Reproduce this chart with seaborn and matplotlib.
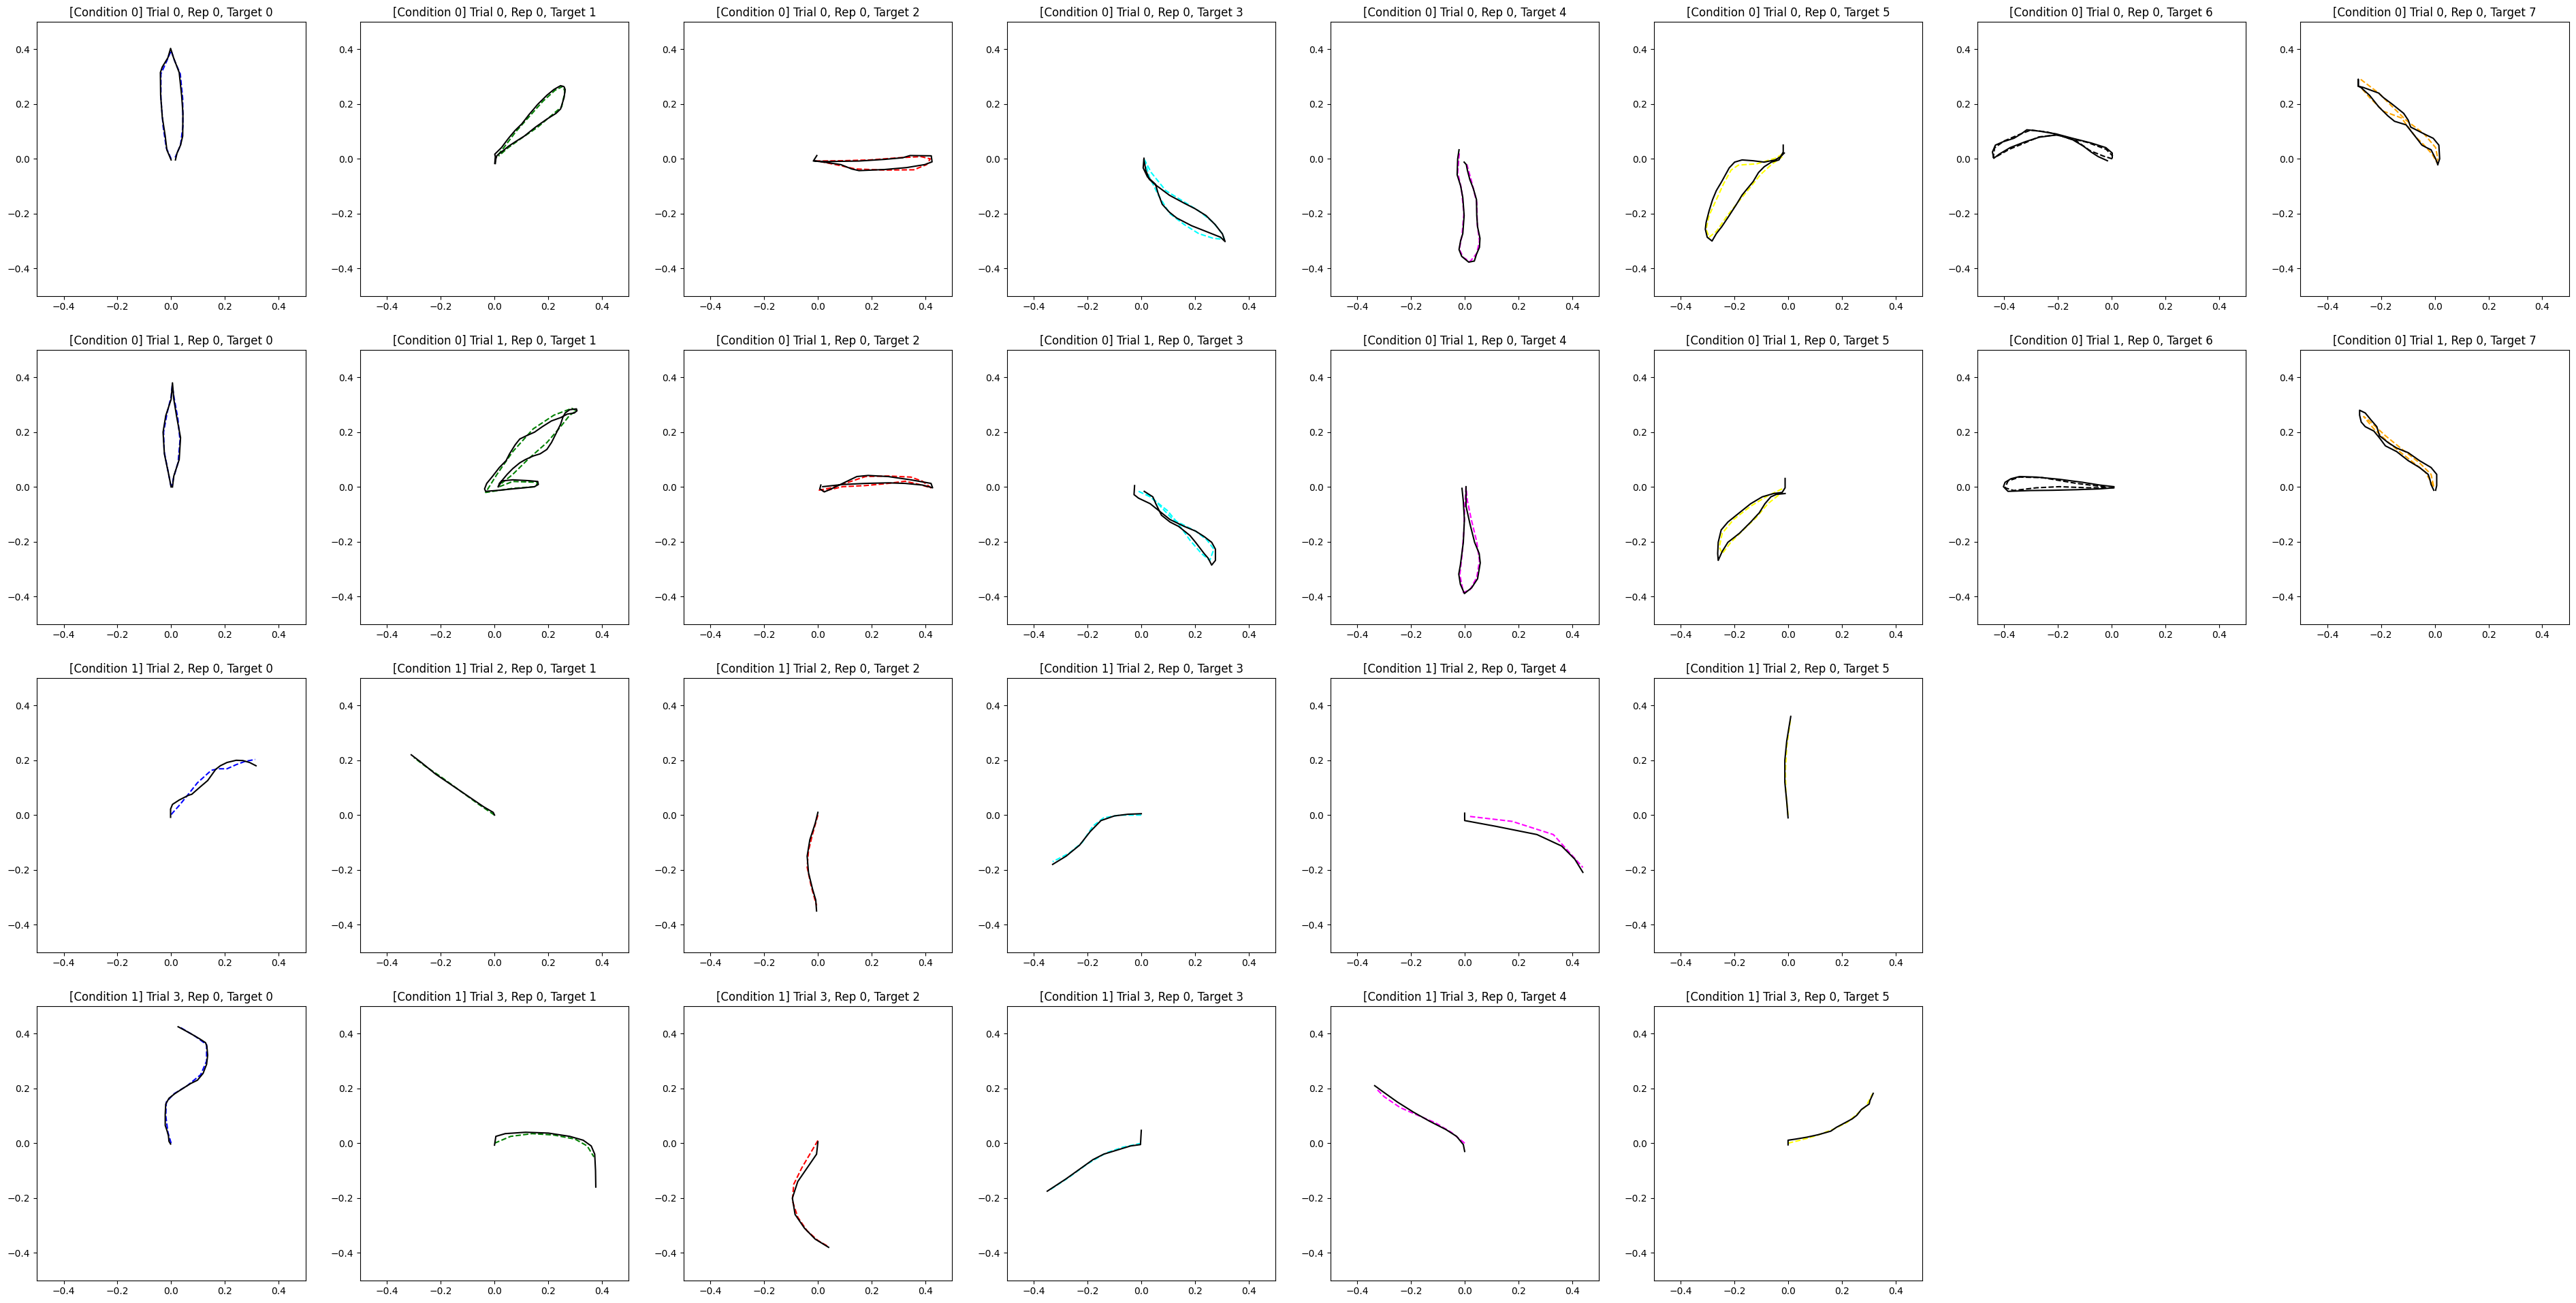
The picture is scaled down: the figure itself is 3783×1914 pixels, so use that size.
import numpy as np
import matplotlib
matplotlib.use('Agg')
import matplotlib.pyplot as plt
import seaborn as sns

# row labels: condition / trial per row, number of targets shown per row
conditions = [0, 0, 1, 1]
trials = [0, 1, 2, 3]
n_targets = [8, 8, 6, 6]
target_colors = ['blue', 'green', 'red', 'cyan', 'magenta', 'yellow', 'black', 'orange']

# ---- trajectories (x, y) ----
# row 0
act_r0c0 = [(0, -0.004), (-0.016, 0.033), (-0.022, 0.083), (-0.033, 0.153), (-0.039, 0.232), (-0.040, 0.315),
            (-0.033, 0.335), (-0.012, 0.369), (-0.002, 0.403), (0.009, 0.369), (0.030, 0.315), (0.039, 0.232),
            (0.044, 0.166), (0.043, 0.083), (0.035, 0.050), (0.022, 0.021), (0.016, -0.004)]
ref_r0c0 = [(0.0, 0.0), (-0.018, 0.04), (-0.03, 0.12), (-0.038, 0.22), (-0.038, 0.31), (-0.015, 0.36), (0.0, 0.395),
            (0.012, 0.36), (0.034, 0.31), (0.043, 0.22), (0.044, 0.12), (0.035, 0.05), (0.015, 0.005)]
act_r0c1 = [(0.001, -0.017), (0.003, 0.008), (0.001, 0.017), (0.026, 0.041), (0.052, 0.075), (0.077, 0.104),
            (0.102, 0.128), (0.128, 0.161), (0.161, 0.199), (0.195, 0.232), (0.221, 0.253), (0.246, 0.267),
            (0.259, 0.263), (0.263, 0.253), (0.259, 0.224), (0.246, 0.182), (0.229, 0.166), (0.195, 0.145),
            (0.153, 0.116), (0.111, 0.083), (0.077, 0.062), (0.052, 0.046), (0.026, 0.025), (0.009, 0.012),
            (0.005, 0.0), (0.003, -0.017)]
ref_r0c1 = [(0.003, -0.01), (0.005, 0.005), (0.03, 0.035), (0.08, 0.1), (0.13, 0.155), (0.18, 0.21), (0.225, 0.25),
            (0.255, 0.265), (0.262, 0.245), (0.25, 0.19), (0.22, 0.165), (0.16, 0.115), (0.1, 0.075), (0.05, 0.04),
            (0.015, 0.01)]
act_r0c2 = [(-0.004, 0.012), (-0.017, -0.008), (0.030, -0.010), (0.153, -0.008), (0.248, -0.002), (0.316, 0.004),
            (0.343, 0.012), (0.422, 0.011), (0.425, -0.011), (0.398, -0.021), (0.330, -0.032), (0.248, -0.039),
            (0.153, -0.043), (0.126, -0.037), (0.085, -0.021), (0.030, -0.013), (-0.010, -0.008)]
ref_r0c2 = [(-0.010, -0.008), (0.085, -0.007), (0.194, -0.004), (0.302, 0.004), (0.384, 0.008), (0.418, 0.0),
            (0.405, -0.021), (0.357, -0.040), (0.248, -0.041), (0.139, -0.037), (0.085, -0.025), (0.010, -0.010)]
act_r0c3 = [(0.010, 0.002), (0.007, -0.033), (0.023, -0.066), (0.053, -0.093), (0.062, -0.124), (0.078, -0.166),
            (0.105, -0.195), (0.132, -0.216), (0.187, -0.244), (0.241, -0.265), (0.295, -0.286), (0.312, -0.302),
            (0.302, -0.274), (0.275, -0.240), (0.241, -0.207), (0.200, -0.182), (0.160, -0.162), (0.105, -0.133),
            (0.053, -0.095), (0.030, -0.075), (0.017, -0.042), (0.010, -0.004)]
ref_r0c3 = [(0.010, 0.0), (0.037, -0.050), (0.091, -0.116), (0.146, -0.149), (0.214, -0.190), (0.268, -0.232),
            (0.302, -0.274), (0.309, -0.294), (0.268, -0.290), (0.214, -0.273), (0.160, -0.240), (0.105, -0.199),
            (0.064, -0.133), (0.030, -0.066), (0.013, -0.008)]
act_r0c4 = [(-0.021, 0.033), (-0.026, 0.0), (-0.028, -0.058), (-0.015, -0.099), (-0.007, -0.141), (-0.002, -0.207),
            (-0.007, -0.273), (-0.015, -0.298), (-0.021, -0.331), (-0.011, -0.356), (0.015, -0.377), (0.036, -0.373),
            (0.044, -0.348), (0.055, -0.323), (0.057, -0.290), (0.048, -0.248), (0.045, -0.207), (0.044, -0.149),
            (0.032, -0.108), (0.019, -0.075), (0.010, -0.041), (0.006, -0.021), (-0.002, -0.012)]
ref_r0c4 = [(-0.02, 0.02), (-0.026, -0.05), (-0.012, -0.11), (-0.003, -0.2), (-0.01, -0.28), (-0.02, -0.33),
            (-0.005, -0.36), (0.02, -0.375), (0.045, -0.345), (0.055, -0.3), (0.047, -0.24), (0.045, -0.16),
            (0.025, -0.08), (0.008, -0.02)]
act_r0c5 = [(-0.018, 0.050), (-0.018, 0.025), (-0.034, -0.004), (-0.062, -0.012), (-0.089, -0.029), (-0.110, -0.050),
            (-0.130, -0.083), (-0.151, -0.108), (-0.171, -0.132), (-0.192, -0.166), (-0.219, -0.207), (-0.247, -0.248),
            (-0.267, -0.273), (-0.283, -0.300), (-0.301, -0.286), (-0.308, -0.257), (-0.305, -0.232), (-0.294, -0.190),
            (-0.281, -0.149), (-0.267, -0.116), (-0.247, -0.083), (-0.233, -0.058), (-0.219, -0.033), (-0.199, -0.012),
            (-0.171, -0.004), (-0.130, -0.007), (-0.089, -0.012), (-0.048, -0.004), (-0.028, 0.008), (-0.014, 0.021)]
ref_r0c5 = [(-0.021, 0.017), (-0.048, 0.002), (-0.116, -0.018), (-0.185, -0.023), (-0.212, -0.041), (-0.240, -0.091),
            (-0.267, -0.149), (-0.294, -0.207), (-0.305, -0.257), (-0.294, -0.286), (-0.267, -0.265), (-0.226, -0.207),
            (-0.185, -0.157), (-0.144, -0.108), (-0.103, -0.058), (-0.062, -0.021), (-0.021, 0.008)]
act_r0c6 = [(-0.015, -0.007), (-0.049, 0.008), (-0.076, 0.025), (-0.104, 0.046), (-0.145, 0.070), (-0.186, 0.083),
            (-0.206, 0.087), (-0.268, 0.079), (-0.322, 0.062), (-0.377, 0.041), (-0.418, 0.017), (-0.438, 0.002),
            (-0.443, 0.025), (-0.432, 0.050), (-0.404, 0.062), (-0.363, 0.075), (-0.336, 0.091), (-0.315, 0.106),
            (-0.268, 0.101), (-0.206, 0.091), (-0.145, 0.075), (-0.076, 0.058), (-0.021, 0.041), (0.003, 0.021),
            (0.003, 0.004)]
ref_r0c6 = [(0.003, 0.0), (-0.03, 0.01), (-0.08, 0.03), (-0.13, 0.065), (-0.2, 0.088), (-0.27, 0.08), (-0.33, 0.055),
            (-0.38, 0.035), (-0.425, 0.01), (-0.44, 0.005), (-0.435, 0.04), (-0.4, 0.065), (-0.34, 0.09), (-0.3, 0.105),
            (-0.24, 0.098), (-0.17, 0.08), (-0.09, 0.06), (-0.02, 0.035), (0.005, 0.01)]
act_r0c7 = [(0.011, -0.021), (0.003, 0.0), (-0.014, 0.033), (-0.031, 0.041), (-0.048, 0.050), (-0.074, 0.083),
            (-0.107, 0.124), (-0.150, 0.137), (-0.175, 0.157), (-0.209, 0.190), (-0.243, 0.232), (-0.276, 0.261),
            (-0.285, 0.265), (-0.285, 0.290), (-0.285, 0.265), (-0.268, 0.261), (-0.209, 0.240), (-0.192, 0.224),
            (-0.158, 0.199), (-0.116, 0.166), (-0.099, 0.141), (-0.090, 0.116), (-0.040, 0.091), (-0.006, 0.075),
            (0.015, 0.050), (0.018, 0.0), (0.011, -0.021)]
ref_r0c7 = [(-0.276, 0.290), (-0.209, 0.240), (-0.158, 0.190), (-0.107, 0.141), (-0.040, 0.091), (0.003, 0.041),
            (0.011, 0.0), (0.007, -0.012), (-0.010, 0.017), (-0.040, 0.050), (-0.074, 0.083), (-0.124, 0.149),
            (-0.192, 0.174), (-0.243, 0.224), (-0.276, 0.261)]

# row 1
act_r1c0 = [(0.0, 0.0), (-0.01, 0.05), (-0.025, 0.12), (-0.03, 0.2), (-0.02, 0.26), (0.0, 0.32), (0.005, 0.38),
            (0.01, 0.32), (0.02, 0.26), (0.035, 0.18), (0.03, 0.1), (0.01, 0.04), (0.005, 0.0)]
ref_r1c0 = [(0.0, 0.0), (-0.012, 0.06), (-0.026, 0.13), (-0.028, 0.2), (-0.015, 0.27), (0.0, 0.33), (0.004, 0.37),
            (0.012, 0.32), (0.025, 0.25), (0.033, 0.17), (0.026, 0.09), (0.008, 0.03), (0.003, 0.0)]
act_r1c1 = [(0.014, 0.001), (0.018, 0.013), (0.026, 0.022), (0.068, 0.026), (0.128, 0.023), (0.161, 0.020),
            (0.163, 0.009), (0.149, 0.001), (0.111, -0.003), (0.068, -0.007), (0.018, -0.012), (-0.033, -0.016),
            (-0.037, -0.007), (-0.029, 0.013), (-0.008, 0.038), (0.018, 0.071), (0.043, 0.096), (0.056, 0.121),
            (0.077, 0.154), (0.094, 0.175), (0.119, 0.187), (0.149, 0.200), (0.178, 0.220), (0.212, 0.241),
            (0.246, 0.253), (0.271, 0.266), (0.297, 0.270), (0.307, 0.278), (0.305, 0.285), (0.280, 0.282),
            (0.263, 0.270), (0.254, 0.253), (0.246, 0.229), (0.229, 0.195), (0.212, 0.162), (0.195, 0.137),
            (0.170, 0.121), (0.144, 0.113), (0.115, 0.100), (0.094, 0.088), (0.068, 0.067), (0.047, 0.046),
            (0.030, 0.026), (0.022, 0.013), (0.014, 0.001)]
ref_r1c1 = [(0.018, 0.001), (0.068, 0.020), (0.161, 0.017), (0.153, 0.001), (0.068, -0.005), (-0.033, -0.020),
            (0.009, 0.046), (0.068, 0.129), (0.144, 0.212), (0.221, 0.262), (0.288, 0.287), (0.305, 0.278),
            (0.280, 0.262), (0.246, 0.220), (0.195, 0.162), (0.128, 0.104), (0.068, 0.046), (0.026, 0.013)]
act_r1c2 = [(0.011, 0.007), (0.007, -0.007), (0.024, -0.018), (0.050, -0.007), (0.092, 0.013), (0.145, 0.038),
            (0.187, 0.042), (0.262, 0.038), (0.346, 0.026), (0.421, 0.013), (0.427, -0.003), (0.389, 0.007),
            (0.325, 0.013), (0.262, 0.015), (0.177, 0.013), (0.092, 0.009), (0.018, 0.001)]
ref_r1c2 = [(0.003, -0.012), (0.050, -0.003), (0.113, 0.017), (0.177, 0.038), (0.262, 0.040), (0.346, 0.036),
            (0.389, 0.021), (0.421, -0.003), (0.378, 0.009), (0.325, 0.021), (0.262, 0.013), (0.177, 0.005),
            (0.092, 0.001), (0.018, -0.016)]
act_r1c3 = [(-0.025, 0.005), (-0.027, -0.028), (-0.010, -0.041), (0.033, -0.061), (0.075, -0.094), (0.107, -0.119),
            (0.160, -0.144), (0.202, -0.161), (0.234, -0.181), (0.262, -0.202), (0.276, -0.227), (0.276, -0.268),
            (0.262, -0.285), (0.249, -0.260), (0.234, -0.243), (0.202, -0.202), (0.181, -0.177), (0.139, -0.144),
            (0.107, -0.128), (0.075, -0.103), (0.054, -0.061), (0.043, -0.036), (0.011, -0.016)]
ref_r1c3 = [(-0.010, -0.016), (0.033, -0.036), (0.097, -0.086), (0.139, -0.136), (0.181, -0.194), (0.224, -0.243),
            (0.255, -0.268), (0.270, -0.227), (0.245, -0.194), (0.202, -0.161), (0.118, -0.119), (0.054, -0.053),
            (0.011, -0.016)]
act_r1c4 = [(-0.010, -0.005), (-0.005, -0.053), (-0.001, -0.119), (-0.005, -0.202), (-0.016, -0.285), (-0.022, -0.318),
            (-0.016, -0.355), (-0.001, -0.389), (0.026, -0.368), (0.048, -0.335), (0.058, -0.277), (0.054, -0.243),
            (0.037, -0.202), (0.020, -0.136), (0.005, -0.070), (0.005, 0.001)]
ref_r1c4 = [(0.005, 0.0), (0.0, -0.08), (-0.003, -0.16), (-0.01, -0.25), (-0.018, -0.32), (-0.005, -0.385),
            (0.02, -0.375), (0.045, -0.33), (0.055, -0.27), (0.045, -0.2), (0.025, -0.12), (0.01, -0.05), (0.005, 0.0)]
act_r1c5 = [(-0.011, 0.031), (-0.011, -0.003), (-0.022, -0.020), (-0.054, -0.024), (-0.096, -0.036), (-0.139, -0.061),
            (-0.181, -0.094), (-0.224, -0.128), (-0.249, -0.157), (-0.260, -0.202), (-0.262, -0.243), (-0.260, -0.268),
            (-0.245, -0.235), (-0.224, -0.202), (-0.181, -0.169), (-0.139, -0.128), (-0.107, -0.094), (-0.086, -0.061),
            (-0.064, -0.036), (-0.043, -0.027), (-0.011, -0.024)]
ref_r1c5 = [(-0.022, -0.007), (-0.075, -0.032), (-0.139, -0.070), (-0.203, -0.119), (-0.245, -0.169), (-0.256, -0.219),
            (-0.245, -0.243), (-0.213, -0.202), (-0.171, -0.161), (-0.118, -0.111), (-0.075, -0.061), (-0.033, -0.028)]
act_r1c6 = [(0.009, -0.003), (-0.044, -0.007), (-0.130, -0.010), (-0.215, -0.012), (-0.300, -0.013), (-0.385, -0.016),
            (-0.402, 0.001), (-0.396, 0.017), (-0.374, 0.030), (-0.342, 0.038), (-0.279, 0.036), (-0.194, 0.028),
            (-0.108, 0.017), (-0.044, 0.007), (0.009, 0.001)]
ref_r1c6 = [(0.009, -0.003), (-0.087, -0.003), (-0.194, 0.001), (-0.279, -0.003), (-0.364, -0.013), (-0.396, -0.003),
            (-0.385, 0.022), (-0.342, 0.036), (-0.257, 0.034), (-0.130, 0.013), (-0.023, 0.0)]
act_r1c7 = [(-0.004, -0.012), (-0.014, 0.009), (-0.019, 0.030), (-0.025, 0.046), (-0.057, 0.071), (-0.099, 0.096),
            (-0.142, 0.129), (-0.184, 0.150), (-0.206, 0.179), (-0.227, 0.204), (-0.259, 0.220), (-0.274, 0.237),
            (-0.280, 0.262), (-0.280, 0.280), (-0.259, 0.270), (-0.238, 0.245), (-0.216, 0.220), (-0.206, 0.187),
            (-0.174, 0.162), (-0.142, 0.142), (-0.099, 0.125), (-0.057, 0.096), (-0.014, 0.071), (0.007, 0.046),
            (0.007, 0.005), (0.003, -0.012)]
ref_r1c7 = [(-0.004, 0.001), (-0.036, 0.055), (-0.099, 0.104), (-0.163, 0.154), (-0.227, 0.212), (-0.265, 0.257),
            (-0.248, 0.245), (-0.184, 0.187), (-0.121, 0.137), (-0.057, 0.088), (-0.014, 0.046), (-0.004, 0.001)]

# row 2
act_r2c0 = [(-0.002, -0.008), (-0.002, 0.022), (0.005, 0.039), (0.030, 0.055), (0.064, 0.072), (0.077, 0.076),
            (0.106, 0.101), (0.136, 0.126), (0.166, 0.167), (0.183, 0.180), (0.208, 0.192), (0.242, 0.200),
            (0.267, 0.199), (0.292, 0.192), (0.316, 0.180)]
ref_r2c0 = [(0.0, 0.002), (0.030, 0.035), (0.064, 0.076), (0.098, 0.118), (0.149, 0.163), (0.174, 0.169),
            (0.208, 0.169), (0.242, 0.184), (0.275, 0.196), (0.313, 0.203)]
act_r2c1 = [(0.0, 0.0), (-0.005, 0.01), (-0.04, 0.03), (-0.1, 0.07), (-0.16, 0.11), (-0.22, 0.15), (-0.27, 0.19),
            (-0.31, 0.22)]
ref_r2c1 = [(0.0, 0.0), (-0.06, 0.04), (-0.13, 0.09), (-0.2, 0.14), (-0.26, 0.18), (-0.3, 0.21)]
act_r2c2 = [(0.0, 0.01), (-0.01, -0.03), (-0.03, -0.09), (-0.04, -0.15), (-0.035, -0.21), (-0.02, -0.27),
            (-0.008, -0.31), (-0.005, -0.35)]
ref_r2c2 = [(0.0, 0.0), (-0.02, -0.07), (-0.035, -0.13), (-0.04, -0.19), (-0.025, -0.26), (-0.005, -0.33)]
act_r2c3 = [(0.0, 0.005), (-0.05, 0.003), (-0.1, -0.003), (-0.15, -0.02), (-0.19, -0.06), (-0.23, -0.11),
            (-0.28, -0.15), (-0.33, -0.18)]
ref_r2c3 = [(0.0, 0.0), (-0.08, 0.0), (-0.14, -0.01), (-0.18, -0.04), (-0.22, -0.1), (-0.27, -0.14), (-0.33, -0.17)]
act_r2c4 = [(0.0, 0.007), (0.0, -0.02), (0.116, -0.041), (0.269, -0.071), (0.361, -0.113), (0.41, -0.161),
            (0.44, -0.209)]
ref_r2c4 = [(0.02, -0.005), (0.177, -0.023), (0.33, -0.071), (0.44, -0.191)]
act_r2c5 = [(0.0, -0.01), (-0.005, 0.05), (-0.012, 0.12), (-0.012, 0.2), (-0.005, 0.27), (0.005, 0.33), (0.01, 0.36)]
ref_r2c5 = [(0.0, 0.0), (-0.008, 0.08), (-0.01, 0.16), (-0.005, 0.25), (0.005, 0.32), (0.01, 0.355)]

# row 3
act_r3c0 = [(-0.002, -0.003), (-0.008, 0.007), (-0.010, 0.027), (-0.016, 0.048), (-0.022, 0.065), (-0.022, 0.106),
            (-0.020, 0.143), (-0.008, 0.164), (0.014, 0.181), (0.039, 0.197), (0.073, 0.218), (0.098, 0.230),
            (0.119, 0.255), (0.132, 0.288), (0.136, 0.321), (0.133, 0.354), (0.128, 0.367), (0.106, 0.381),
            (0.073, 0.400), (0.047, 0.414), (0.026, 0.425)]
ref_r3c0 = [(0.0, 0.0), (-0.012, 0.04), (-0.02, 0.1), (-0.018, 0.15), (0.01, 0.18), (0.06, 0.21), (0.11, 0.25),
            (0.132, 0.3), (0.132, 0.36), (0.09, 0.39), (0.03, 0.425)]
act_r3c1 = [(0.0, -0.007), (0.005, 0.025), (0.04, 0.035), (0.116, 0.04), (0.2, 0.037), (0.28, 0.025), (0.33, 0.011),
            (0.36, -0.01), (0.373, -0.04), (0.376, -0.1), (0.377, -0.16)]
ref_r3c1 = [(0.0, 0.0), (0.06, 0.025), (0.14, 0.035), (0.22, 0.03), (0.3, 0.015), (0.345, -0.01), (0.37, -0.05)]
act_r3c2 = [(0.0, 0.005), (-0.005, -0.04), (-0.04, -0.09), (-0.075, -0.14), (-0.095, -0.2), (-0.085, -0.26),
            (-0.05, -0.31), (-0.01, -0.35), (0.04, -0.38)]
ref_r3c2 = [(0.0, 0.01), (-0.03, -0.04), (-0.06, -0.09), (-0.09, -0.15), (-0.095, -0.21), (-0.075, -0.27),
            (-0.04, -0.32), (0.0, -0.355), (0.035, -0.375)]
act_r3c3 = [(0.0, 0.047), (-0.003, -0.005), (-0.04, -0.01), (-0.09, -0.025), (-0.14, -0.04), (-0.18, -0.06),
            (-0.23, -0.095), (-0.28, -0.13), (-0.35, -0.175)]
ref_r3c3 = [(0.0, 0.0), (-0.07, -0.015), (-0.13, -0.035), (-0.2, -0.075), (-0.27, -0.125), (-0.34, -0.17)]
act_r3c4 = [(0.0, -0.03), (-0.005, -0.005), (-0.03, 0.025), (-0.07, 0.05), (-0.13, 0.08), (-0.19, 0.113),
            (-0.25, 0.15), (-0.3, 0.185), (-0.335, 0.21)]
ref_r3c4 = [(0.0, 0.0), (-0.05, 0.04), (-0.11, 0.075), (-0.17, 0.1), (-0.24, 0.13), (-0.3, 0.17), (-0.33, 0.2)]
act_r3c5 = [(0, -0.006), (0, 0.011), (0.028, 0.015), (0.070, 0.022), (0.112, 0.031), (0.159, 0.044), (0.180, 0.058),
            (0.205, 0.071), (0.239, 0.089), (0.256, 0.102), (0.273, 0.123), (0.290, 0.135), (0.302, 0.143),
            (0.305, 0.156), (0.317, 0.182)]
ref_r3c5 = [(0, 0), (0.045, 0.011), (0.104, 0.027), (0.171, 0.052), (0.222, 0.077), (0.256, 0.106), (0.290, 0.135),
            (0.315, 0.181)]

traces = {
    (0, 0): (ref_r0c0, act_r0c0), (0, 1): (ref_r0c1, act_r0c1), (0, 2): (ref_r0c2, act_r0c2),
    (0, 3): (ref_r0c3, act_r0c3), (0, 4): (ref_r0c4, act_r0c4), (0, 5): (ref_r0c5, act_r0c5),
    (0, 6): (ref_r0c6, act_r0c6), (0, 7): (ref_r0c7, act_r0c7),
    (1, 0): (ref_r1c0, act_r1c0), (1, 1): (ref_r1c1, act_r1c1), (1, 2): (ref_r1c2, act_r1c2),
    (1, 3): (ref_r1c3, act_r1c3), (1, 4): (ref_r1c4, act_r1c4), (1, 5): (ref_r1c5, act_r1c5),
    (1, 6): (ref_r1c6, act_r1c6), (1, 7): (ref_r1c7, act_r1c7),
    (2, 0): (ref_r2c0, act_r2c0), (2, 1): (ref_r2c1, act_r2c1), (2, 2): (ref_r2c2, act_r2c2),
    (2, 3): (ref_r2c3, act_r2c3), (2, 4): (ref_r2c4, act_r2c4), (2, 5): (ref_r2c5, act_r2c5),
    (3, 0): (ref_r3c0, act_r3c0), (3, 1): (ref_r3c1, act_r3c1), (3, 2): (ref_r3c2, act_r3c2),
    (3, 3): (ref_r3c3, act_r3c3), (3, 4): (ref_r3c4, act_r3c4), (3, 5): (ref_r3c5, act_r3c5),
}

fig, axes = plt.subplots(4, 8, figsize=(37.83, 19.14), dpi=100)
fig.subplots_adjust(left=0.01429, right=0.99734, bottom=0.01748, top=0.98325, wspace=0.2038, hspace=0.1975)

for r in range(4):
    for c in range(8):
        ax = axes[r, c]
        if c >= n_targets[r]:
            ax.axis('off')
            continue
        ref, act = traces[(r, c)]
        ref = np.array(ref)
        act = np.array(act)
        sns.lineplot(x=ref[:, 0], y=ref[:, 1], sort=False, estimator=None, color=target_colors[c],
                     linestyle='--', linewidth=1.5, ax=ax)
        sns.lineplot(x=act[:, 0], y=act[:, 1], sort=False, estimator=None, color='black',
                     linewidth=1.5, ax=ax)
        ax.set_xlim(-0.5, 0.5)
        ax.set_ylim(-0.5, 0.5)
        ax.set_title(f"[Condition {conditions[r]}] Trial {trials[r]}, Rep 0, Target {c}")

fig.savefig('out.png', dpi=100)
